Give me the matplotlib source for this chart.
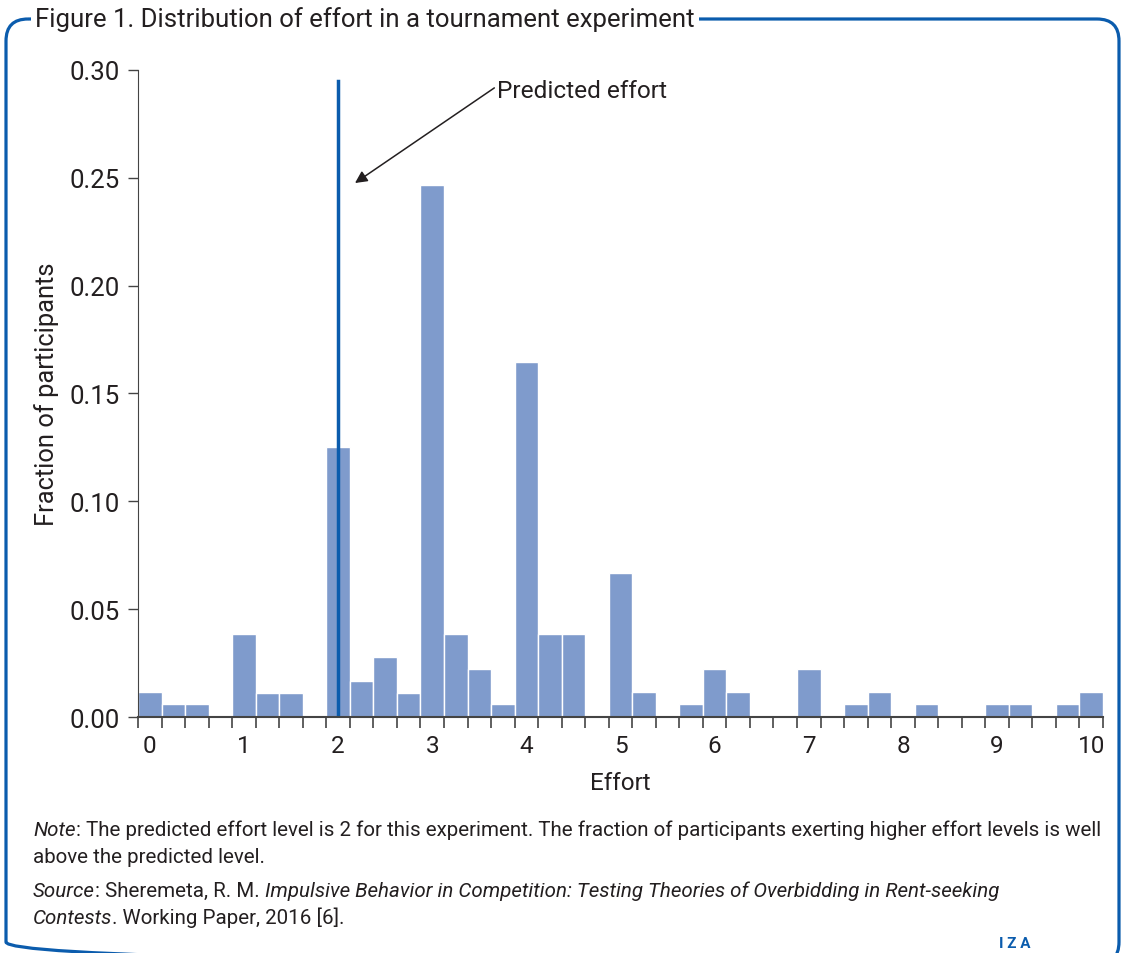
import matplotlib
matplotlib.use("Agg")
import matplotlib.pyplot as plt
from matplotlib.patches import FancyBboxPatch
import numpy as np

plt.rcParams['font.family'] = ['Roboto', 'DejaVu Sans']

# effort levels (bin centres, step 0.25) and fraction of participants
effort = [0.0, 0.25, 0.5, 0.75, 1.0, 1.25, 1.5, 1.75, 2.0, 2.25, 2.5, 2.75,
          3.0, 3.25, 3.5, 3.75, 4.0, 4.25, 4.5, 4.75, 5.0, 5.25, 5.5, 5.75,
          6.0, 6.25, 6.5, 6.75, 7.0, 7.25, 7.5, 7.75, 8.0, 8.25, 8.5, 8.75,
          9.0, 9.25, 9.5, 9.75, 10.0]
fraction = [0.0116, 0.0060, 0.0060, 0.0, 0.0384, 0.0111, 0.0111, 0.0, 0.1254, 0.0167, 0.0278, 0.0111,
            0.2466, 0.0384, 0.0222, 0.0060, 0.1644, 0.0384, 0.0384, 0.0, 0.0667, 0.0116, 0.0, 0.0060,
            0.0222, 0.0116, 0.0, 0.0, 0.0222, 0.0, 0.0060, 0.0116, 0.0, 0.0060, 0.0, 0.0,
            0.0060, 0.0060, 0.0, 0.0060, 0.0116]
predicted = 2.0
predicted_top = 0.295
xticks = list(range(11))
yticks = [0.00, 0.05, 0.10, 0.15, 0.20, 0.25, 0.30]

bar_color = '#7f9bcc'
blue = '#0b5cad'
txt = '#231f20'

fig = plt.figure(figsize=(11.24, 9.54), dpi=100)

# frame + captions drawn in pixel coordinates
bg = fig.add_axes([0, 0, 1, 1], zorder=0)
bg.set_xlim(0, 1124)
bg.set_ylim(954, 0)
bg.axis('off')
frame = FancyBboxPatch((6, 20), 1113, 945, boxstyle='round,pad=0,rounding_size=22',
                       fill=False, edgecolor=blue, linewidth=2.3)
bg.add_patch(frame)
bg.text(35, 20, 'Figure 1. Distribution of effort in a tournament experiment', fontsize=18.5,
        color=txt, va='center', ha='left',
        bbox=dict(facecolor='white', edgecolor='none', pad=3))


def rich_line(x, y, parts, size=14.75):
    # draw text pieces side by side, italic where flagged
    r = fig.canvas.get_renderer()
    for s, it in parts:
        t = bg.text(x, y, s, fontsize=size, color=txt, va='baseline', ha='left',
                    style='italic' if it else 'normal')
        bb = t.get_window_extent(renderer=r)
        x += bb.width


rich_line(33, 836, [('Note', True), (': The predicted effort level is 2 for this experiment. The fraction of participants exerting higher effort levels is well', False)])
rich_line(33, 863, [('above the predicted level.', False)])
rich_line(33, 897, [('Source', True), (': Sheremeta, R. M. ', False),
                    ('Impulsive Behavior in Competition: Testing Theories of Overbidding in Rent-seeking', True)])
rich_line(33, 924, [('Contests', True), ('. Working Paper, 2016 [6].', False)])
bg.text(1015, 944, 'I Z A', fontsize=11, color=blue, ha='center', va='center', fontweight='bold')

ax = fig.add_axes([138 / 1124, 1 - 718 / 954, 965 / 1124, 647 / 954], zorder=1)
ax.patch.set_alpha(0)
ax.bar(effort, fraction, width=0.25, color=bar_color, edgecolor='white', linewidth=1)
ax.plot([predicted, predicted], [0, predicted_top], color=blue, linewidth=2.5)
ax.text(3.69, 0.2903, 'Predicted effort', fontsize=17.6, color=txt, va='center', ha='left')
ax.annotate('', xy=(2.18, 0.2476), xytext=(3.66, 0.2917),
            arrowprops=dict(arrowstyle='-|>', color=txt, lw=1.1, shrinkA=0, shrinkB=0,
                            mutation_scale=18))

ax.set_xlim(-0.125, 10.125)
ax.set_ylim(0, 0.30)
ax.set_xticks(xticks)
ax.set_xticklabels([str(v) for v in xticks])
ax.set_xticks(np.arange(-0.125, 10.2, 0.25), minor=True)
ax.tick_params(axis='x', which='major', length=0, pad=12, labelsize=17.5, labelcolor=txt)
ax.tick_params(axis='x', which='minor', length=8, width=1.2, color='#444444')
ax.set_yticks(yticks)
ax.set_yticklabels(['%.2f' % v for v in yticks])
ax.tick_params(axis='y', length=7, width=1, color='#444444', pad=6, labelsize=18.5, labelcolor=txt)
for s in ['top', 'right']:
    ax.spines[s].set_visible(False)
ax.spines['left'].set_color('#444444')
ax.spines['bottom'].set_color('#444444')
ax.spines['bottom'].set_linewidth(1.5)
ax.set_xlabel('Effort', fontsize=17.5, color=txt, labelpad=10)
ax.set_ylabel('Fraction of participants', fontsize=18.4, color=txt, labelpad=8)

fig.savefig('out.png', dpi=100)
